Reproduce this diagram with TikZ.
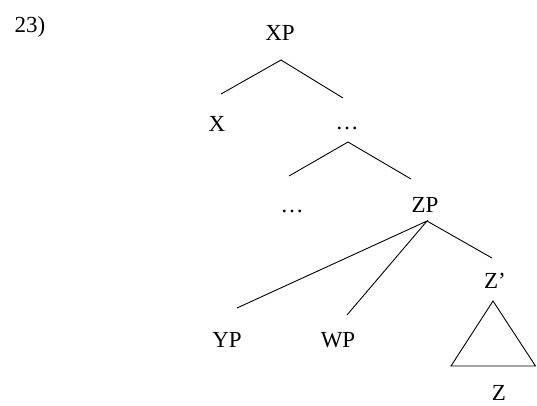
\documentclass[tikz,border=0pt]{standalone}
\usepackage{fontspec}
\setmainfont{Liberation Serif}
\begin{document}
\begin{tikzpicture}[x=1pt,y=-1pt,
  lab/.style={inner sep=0pt,anchor=base,font=\fontsize{23}{27}\selectfont},
  edge/.style={line width=0.9pt}]
\useasboundingbox (0,0) rectangle (537,405);
\node[lab] (num) at (30,32) {23)};
\node[lab] (XP) at (280,40) {XP};
\node[lab] (X) at (217,131) {X};
\node[lab] (d1) at (347,129) {\ldots};
\node[lab] (d2) at (292,212) {\ldots};
\node[lab] (ZP) at (425,212) {ZP};
\node[lab] (YP) at (227,347) {YP};
\node[lab] (WP) at (338,347) {WP};
\node[lab] (Zb) at (495,288) {Z’};
\node[lab] (Z) at (499,400) {Z};
\draw[edge] ([shift={(4,-37)}]X.base) -- ([shift={(1,20)}]XP.base) -- ([shift={(-4,-31)}]d1.base);
\draw[edge] ([shift={(-3,-36)}]d2.base) -- ([shift={(1,13)}]d1.base) -- ([shift={(-14,-33)}]ZP.base);
\draw[edge] ([shift={(10,-39)}]YP.base) -- ([shift={(2,9)}]ZP.base) -- ([shift={(9,-32)}]WP.base);
\draw[edge] ([shift={(2,9)}]ZP.base) -- ([shift={(-3,-30)}]Zb.base);
\draw[edge,line join=miter] ([shift={(-2,13)}]Zb.base) -- ([shift={(-48,-34)}]Z.base) -- ([shift={(36.5,-34)}]Z.base) -- cycle;
\end{tikzpicture}
\end{document}
